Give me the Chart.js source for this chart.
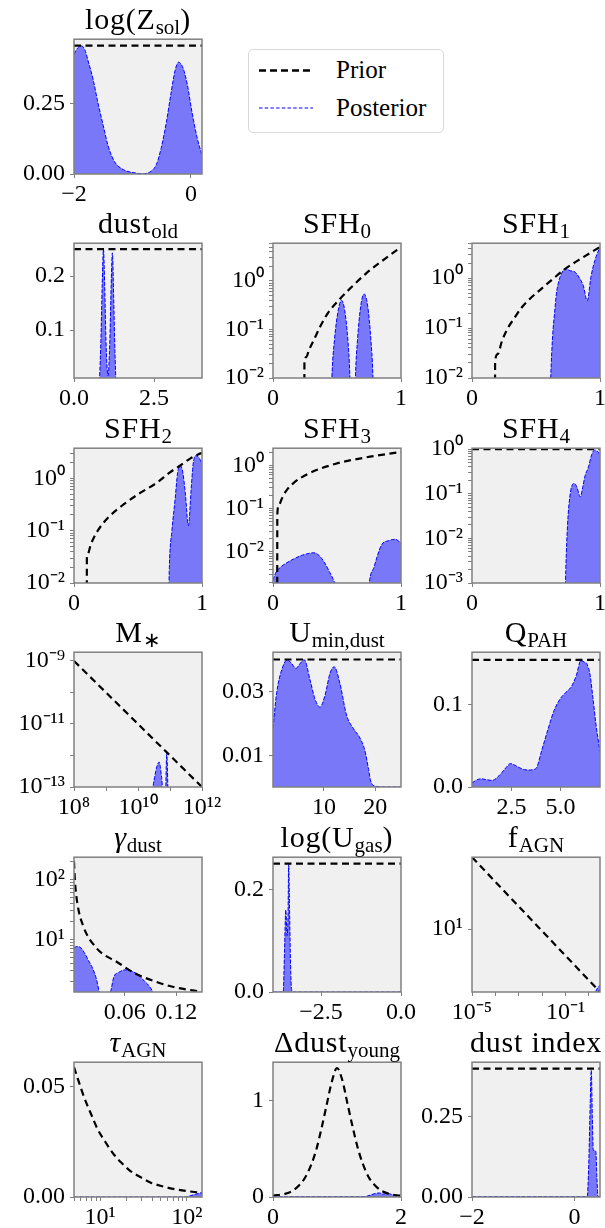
<!DOCTYPE html>
<html>
<head>
<meta charset="utf-8">
<script src="https://cdn.jsdelivr.net/npm/chart.js@4.4.1/dist/chart.umd.min.js"></script>
<style>
  body { margin: 0; background: #fff; width: 605px; height: 1228px; position: relative; overflow: hidden; font-family: 'Liberation Serif', serif; }
  canvas { position: absolute; }
  .ttl { position: absolute; text-align: center; font-size: 30px; line-height: 1; white-space: nowrap; letter-spacing: 0.8px; }
  .ttl sub { font-size: 70%; vertical-align: -0.22em; line-height: 0; letter-spacing: 0; }
  #legend { position: absolute; left: 248px; top: 49px; width: 194px; height: 82px; border: 1px solid #d9d9d9; border-radius: 5px; background: #fff; }
  #legend span { position: absolute; left: 87px; font-size: 25px; line-height: 1; }
  #legend svg { position: absolute; left: 0; top: 0; }
</style>
</head>
<body>
<div id="legend">
  <svg width="80" height="82">
    <line x1="10" y1="20.5" x2="64" y2="20.5" stroke="#000" stroke-width="2.4" stroke-dasharray="7,4"></line>
    <line x1="10" y1="58" x2="64" y2="58" stroke="#0000ff" stroke-width="1.2" stroke-dasharray="3.5,2.2"></line>
  </svg>
  <span style="top:7px">Prior</span>
  <span style="top:45px">Posterior</span>
</div>
<script>
// ---- data ----
// log(Z_sol)
const zsolX = [-2, -1.94, -1.87, -1.81, -1.76, -1.67, -1.59, -1.5, -1.42, -1.31, -1.16, -0.99, -0.82, -0.68, -0.59, -0.51, -0.42, -0.34, -0.27, -0.21, -0.13, -0.06, 0.02, 0.11, 0.19];
const zsolPost = [0.427, 0.448, 0.456, 0.44, 0.404, 0.334, 0.253, 0.173, 0.103, 0.045, 0.016, 0.005, 0.001, 0.01, 0.034, 0.091, 0.184, 0.288, 0.369, 0.398, 0.375, 0.317, 0.219, 0.126, 0.068];
const zsolPriorX = [-2, 0.19];
const zsolPrior = [0.457, 0.457];

// dust_old
const dustOldX = [0, 0.78, 0.84, 0.88, 0.92, 0.96, 1.0, 1.06, 1.12, 1.16, 1.2, 1.24, 1.28, 1.32, 4];
const dustOldPost = [0, 0, 0.08, 0.18, 0.25, 0.18, 0.08, 0.015, 0.08, 0.18, 0.243, 0.16, 0.06, 0, 0];
const dustOldPriorX = [0, 4];
const dustOldPrior = [0.25, 0.25];

// SFH_0
const sfh0PriorX = [0.245, 0.2455, 0.26, 0.28, 0.33, 0.37, 0.43, 0.52, 0.6, 0.73, 0.885, 1.0];
const sfh0Prior = [0.005, 0.02, 0.027, 0.037, 0.07, 0.117, 0.22, 0.42, 0.69, 1.45, 3.0, 5.0];
const sfh0X = [0.45, 0.46, 0.48, 0.51, 0.535, 0.56, 0.585, 0.6, 0.61, 0.635, 0.645, 0.66, 0.685, 0.712, 0.74, 0.765, 0.78, 0.79];
const sfh0Post = [0.001, 0.01, 0.06, 0.25, 0.40, 0.25, 0.06, 0.012, 0.001, 0.001, 0.012, 0.06, 0.3, 0.54, 0.3, 0.06, 0.012, 0.001];

// SFH_1
const sfh1PriorX = [0.18, 0.1805, 0.2, 0.234, 0.28, 0.325, 0.384, 0.45, 0.535, 0.63, 0.731, 0.867, 1.0];
const sfh1Prior = [0.005, 0.021, 0.03, 0.055, 0.1, 0.15, 0.25, 0.38, 0.59, 0.95, 1.55, 2.6, 4.2];
const sfh1X = [0.605, 0.615, 0.63, 0.645, 0.66, 0.68, 0.70, 0.73, 0.77, 0.80, 0.84, 0.87, 0.90, 0.93, 0.96, 1.0];
const sfh1Post = [0.001, 0.01, 0.07, 0.2, 0.5, 0.9, 1.25, 1.55, 1.4, 1.35, 1.0, 0.7, 0.35, 1.08, 2.27, 4.2];

// SFH_2
const sfh2PriorX = [0.1, 0.1005, 0.106, 0.132, 0.18, 0.26, 0.39, 0.52, 0.65, 0.75, 0.83, 0.91, 0.97, 1.0];
const sfh2Prior = [0.005, 0.029, 0.035, 0.055, 0.095, 0.17, 0.32, 0.53, 0.83, 1.3, 1.75, 2.4, 2.85, 3.05];
const sfh2X = [0.735, 0.745, 0.765, 0.79, 0.81, 0.83, 0.85, 0.87, 0.894, 0.915, 0.93, 0.95, 0.975, 1.0];
const sfh2Post = [0.001, 0.02, 0.1, 0.4, 1.3, 1.75, 1.3, 0.5, 0.125, 0.6, 1.8, 2.7, 2.5, 1.9];

// SFH_3
const sfh3PriorX = [0.033, 0.0335, 0.045, 0.069, 0.1, 0.16, 0.28, 0.49, 0.73, 1.0];
const sfh3Prior = [0.001, 0.071, 0.12, 0.17, 0.25, 0.39, 0.65, 1.09, 1.54, 2.05];
const sfh3X = [0, 0.02, 0.05, 0.1, 0.16, 0.22, 0.28, 0.32, 0.36, 0.4, 0.44, 0.48, 0.5, 0.52, 0.74, 0.75, 0.79, 0.85, 0.9, 0.955, 1.0];
const sfh3Post = [0.0022, 0.0032, 0.0042, 0.0054, 0.0068, 0.0082, 0.0092, 0.0095, 0.0082, 0.0058, 0.0035, 0.002, 0.0014, 0.0005, 0.0005, 0.0016, 0.0045, 0.0148, 0.018, 0.0195, 0.016];

// SFH_4
const sfh4PriorX = [0, 1];
const sfh4Prior = [1, 1];
const sfh4X = [0.728, 0.733, 0.74, 0.75, 0.763, 0.78, 0.80, 0.82, 0.846, 0.865, 0.883, 0.91, 0.935, 0.958, 0.98, 1.0];
const sfh4Post = [0.0005, 0.002, 0.008, 0.03, 0.08, 0.15, 0.17, 0.14, 0.085, 0.14, 0.25, 0.4, 0.75, 0.95, 0.9, 0.75];

// M_*
const mstarPriorX = [1e8, 1e12];
const mstarPrior = [1e-9, 1e-13];
const mstarX = [2.6e10, 2.9e10, 3.3e10, 3.9e10, 4.6e10, 5.2e10, 5.8e10, 6.1e10, 7.1e10, 7.6e10, 7.95e10, 8.3e10, 8.9e10];
const mstarPost = [1e-14, 8e-14, 2e-13, 4.5e-13, 6.2e-13, 3e-13, 8e-14, 1e-14, 1e-14, 4e-13, 1.26e-12, 4e-13, 1e-14];

// U_min,dust
const uminPriorX = [0.1, 25];
const uminPrior = [0.0402, 0.0402];
const uminX = [0.1, 0.82, 1.79, 2.88, 3.74, 4.57, 5.35, 6.19, 7.3, 8.27, 9.24, 10.2, 11.2, 12.0, 13.1, 14.4, 15.7, 16.9, 17.97, 18.7, 19.1, 20.2, 22, 25];
const uminPost = [0.0186, 0.0298, 0.0369, 0.0401, 0.0389, 0.0374, 0.0389, 0.0401, 0.0338, 0.0277, 0.0252, 0.0288, 0.0359, 0.0379, 0.0328, 0.0227, 0.0185, 0.0158, 0.0115, 0.0055, 0.0019, 0.0002, 0, 0];

// Q_PAH
const qpahPriorX = [0.5, 7.0];
const qpahPrior = [0.1538, 0.1538];
const qpahX = [0.5, 0.7, 0.94, 1.2, 1.53, 1.8, 2.02, 2.25, 2.45, 2.7, 2.9, 3.15, 3.39, 3.6, 3.78, 4.05, 4.37, 4.66, 4.96, 5.25, 5.55, 5.8, 6.03, 6.2, 6.33, 6.5, 6.63, 6.8, 7.0];
const qpahPost = [0.005, 0.008, 0.0099, 0.009, 0.0079, 0.012, 0.0176, 0.024, 0.0283, 0.026, 0.0235, 0.021, 0.0205, 0.021, 0.0235, 0.045, 0.0706, 0.092, 0.106, 0.114, 0.1216, 0.135, 0.153, 0.151, 0.149, 0.135, 0.11, 0.075, 0.043];

// gamma_dust
const gammaPriorX = [0.001, 0.002, 0.0047, 0.0115, 0.027, 0.0362, 0.0497, 0.072, 0.0946, 0.117, 0.15];
const gammaPrior = [200, 100, 42, 17, 7.2, 5.5, 4.3, 2.7, 2.0, 1.6, 1.33];
const gammaX = [0.001, 0.004, 0.008, 0.013, 0.018, 0.023, 0.027, 0.03, 0.033, 0.04, 0.0435, 0.0474, 0.053, 0.061, 0.068, 0.0767, 0.083, 0.088, 0.0933, 0.1, 0.15];
const gammaPost = [7.2, 7.6, 7.4, 6.0, 4.4, 3.2, 2.2, 1.4, 0.9, 0.9, 1.3, 2.35, 2.8, 3.1, 2.95, 2.5, 2.0, 1.7, 1.3, 0.9, 0.9];

// log(U_gas)
const ugasPriorX = [-4, 0];
const ugasPrior = [0.25, 0.25];
const ugasX = [-4, -3.68, -3.64, -3.6, -3.56, -3.53, -3.51, -3.48, -3.45, -3.42, -3.39, 0];
const ugasPost = [0, 0, 0.08, 0.16, 0.11, 0.15, 0.25, 0.15, 0.05, 0.005, 0, 0];

// f_AGN
const fagnPriorX = [1e-5, 3];
const fagnPrior = [10.8, 9.35];
const fagnX = [1.2, 2.0, 3];
const fagnPost = [9.2, 9.36, 9.42];

// tau_AGN
const tauPriorX = [5, 5.5, 6.5, 8, 9.3, 11.5, 14.5, 18, 22.4, 30, 38, 52, 70, 100, 142, 150];
const tauPrior = [0.059, 0.054, 0.0456, 0.037, 0.031, 0.025, 0.0192, 0.0152, 0.0118, 0.0088, 0.0066, 0.0049, 0.0037, 0.0027, 0.002, 0.0019];
const tauX = [5, 95, 110, 125, 140, 150];
const tauPost = [0, 0, 0.0006, 0.0012, 0.0017, 0.002];

// Delta dust_young
const ddustPriorX = [0, 0.2, 0.32, 0.42, 0.5, 0.6, 0.68, 0.76, 0.83, 0.92, 1.0, 1.08, 1.17, 1.24, 1.32, 1.4, 1.5, 1.58, 1.68, 1.8, 2.0];
const ddustPrior = [0.015, 0.035, 0.07, 0.13, 0.2, 0.34, 0.5, 0.72, 0.93, 1.2, 1.34, 1.22, 0.95, 0.74, 0.52, 0.35, 0.2, 0.13, 0.07, 0.035, 0.012];
const ddustX = [0, 1.42, 1.5, 1.58, 1.66, 1.72, 1.78, 1.84, 1.9, 1.96, 2.0];
const ddustPost = [0.003, 0.003, 0.015, 0.033, 0.042, 0.03, 0.04, 0.03, 0.015, 0.005, 0.003];

// dust index
const dindexPriorX = [-2, 0.5];
const dindexPrior = [0.4, 0.4];
const dindexX = [-2, 0.25, 0.28, 0.31, 0.33, 0.35, 0.37, 0.4, 0.42, 0.44, 0.46, 0.5];
const dindexPost = [0.001, 0.001, 0.1, 0.3, 0.395, 0.25, 0.145, 0.145, 0.14, 0.06, 0.001, 0.001];

// ---- layout ----
const COLS = [74, 273, 472];
const ROWS = [35, 239, 444, 648, 853, 1058];
const PW = 128, PH = 139;
const YW = 70, PADR = 30, PADT = 14, XH = 34;
const FONT = "'Liberation Serif', serif";
const EDGE = '#808080';

const SUP = { '0': '⁰', '1': '¹', '2': '²', '3': '³', '4': '⁴', '5': '⁵', '6': '⁶', '7': '⁷', '8': '⁸', '9': '⁹', '-': '⁻' };

function fmtNum(v, dec) {
  return v.toFixed(dec).replace('-', '\u2212');
}

function pow10Label(v, shown) {
  const lg = Math.log10(v);
  const e = Math.round(lg);
  if (Math.abs(lg - e) > 1e-6 || !shown.includes(e)) return '';
  return '10' + String(e).split('').map(c => SUP[c]).join('');
}

// tick positions m*10^e inside [min, max]
function logTicks(min, max, mults) {
  const out = [];
  for (let e = Math.floor(Math.log10(min)); e <= Math.ceil(Math.log10(max)); e++) {
    mults.forEach(m => {
      const v = m * Math.pow(10, e);
      if (v >= min * 0.9999 && v <= max * 1.0001) out.push(v);
    });
  }
  return out;
}

const ALL = [1, 2, 3, 4, 5, 6, 7, 8, 9];

function lin(min, max, ticks, dec) {
  return { type: 'linear', min, max, ticks, fmt: v => fmtNum(v, dec) };
}
function lg(min, max, ticks, shown) {
  return { type: 'logarithmic', min, max, ticks, fmt: v => pow10Label(v, shown) };
}

const panels = [
  { title: 'log(Z<sub>sol</sub>)', col: 0, row: 0,
    x: lin(-2, 0.19, [-2, 0], 0), y: lin(0, 0.48, [0, 0.25], 2),
    prior: [zsolPriorX, zsolPrior], post: [zsolX, zsolPost] },
  { title: 'dust<sub>old</sub>', col: 0, row: 1,
    x: lin(0, 4, [0, 2.5], 1), y: lin(0.011, 0.261, [0.1, 0.2], 1),
    prior: [dustOldPriorX, dustOldPrior], post: [dustOldX, dustOldPost] },
  { title: 'SFH<sub>0</sub>', col: 1, row: 1,
    x: lin(0, 1, [0, 1], 0), y: lg(0.01, 6, logTicks(0.01, 6, ALL), [-2, -1, 0]),
    prior: [sfh0PriorX, sfh0Prior], post: [sfh0X, sfh0Post] },
  { title: 'SFH<sub>1</sub>', col: 2, row: 1,
    x: lin(0, 1, [0, 1], 0), y: lg(0.01, 5, logTicks(0.01, 5, ALL), [-2, -1, 0]),
    prior: [sfh1PriorX, sfh1Prior], post: [sfh1X, sfh1Post] },
  { title: 'SFH<sub>2</sub>', col: 0, row: 2,
    x: lin(0, 1, [0, 1], 0), y: lg(0.01, 3.75, logTicks(0.01, 3.75, ALL), [-2, -1, 0]),
    prior: [sfh2PriorX, sfh2Prior], post: [sfh2X, sfh2Post] },
  { title: 'SFH<sub>3</sub>', col: 1, row: 2,
    x: lin(0, 1, [0, 1], 0), y: lg(0.0019, 2.5, logTicks(0.0019, 2.5, ALL), [-2, -1, 0]),
    prior: [sfh3PriorX, sfh3Prior], post: [sfh3X, sfh3Post] },
  { title: 'SFH<sub>4</sub>', col: 2, row: 2,
    x: lin(0, 1, [0, 1], 0), y: lg(0.001, 1.05, logTicks(0.001, 1.05, ALL), [-3, -2, -1, 0]),
    prior: [sfh4PriorX, sfh4Prior], post: [sfh4X, sfh4Post] },
  { title: 'M<sub>∗</sub>', col: 0, row: 3,
    x: lg(1e8, 1e12, logTicks(1e8, 1e12, [1]), [8, 10, 12]),
    y: lg(1e-13, 1.9e-9, logTicks(1e-13, 1.9e-9, [1]), [-13, -11, -9]),
    prior: [mstarPriorX, mstarPrior], post: [mstarX, mstarPost] },
  { title: 'U<sub>min,dust</sub>', col: 1, row: 3,
    x: lin(0.1, 25, [10, 20], 0), y: lin(0, 0.0425, [0.01, 0.03], 2),
    prior: [uminPriorX, uminPrior], post: [uminX, uminPost] },
  { title: 'Q<sub>PAH</sub>', col: 2, row: 3,
    x: lin(0.5, 7, [2.5, 5.0], 1), y: lin(0, 0.163, [0, 0.1], 1),
    prior: [qpahPriorX, qpahPrior], post: [qpahX, qpahPost] },
  { title: '<i>γ</i><sub>dust</sub>', col: 0, row: 4,
    x: lin(0.001, 0.15, [0.06, 0.12], 2), y: lg(1.32, 236, logTicks(1.32, 236, ALL), [1, 2]),
    prior: [gammaPriorX, gammaPrior], post: [gammaX, gammaPost] },
  { title: 'log(U<sub>gas</sub>)', col: 1, row: 4,
    x: lin(-4, 0, [-2.5, 0], 1), y: lin(0, 0.2625, [0, 0.2], 1),
    prior: [ugasPriorX, ugasPrior], post: [ugasX, ugasPost] },
  { title: 'f<sub>AGN</sub>', col: 2, row: 4,
    x: lg(1e-5, 3, logTicks(1e-5, 3, [1]), [-5, -1]), y: lg(9.35, 10.8, [10], [1]),
    prior: [fagnPriorX, fagnPrior], post: [fagnX, fagnPost] },
  { title: '<i>τ</i><sub>AGN</sub>', col: 0, row: 5,
    x: lg(5, 150, logTicks(5, 150, ALL), [1, 2]), y: lin(0, 0.0612, [0, 0.05], 2),
    prior: [tauPriorX, tauPrior], post: [tauX, tauPost] },
  { title: 'Δdust<sub>young</sub>', col: 1, row: 5,
    x: lin(0, 2, [0, 2], 0), y: lin(0, 1.4, [0, 1], 0),
    prior: [ddustPriorX, ddustPrior], post: [ddustX, ddustPost] },
  { title: 'dust index', col: 2, row: 5,
    x: lin(-2, 0.5, [-2, 0], 0), y: lin(0, 0.42, [0, 0.25], 2),
    prior: [dindexPriorX, dindexPrior], post: [dindexX, dindexPost] }
];

function pts(pair) {
  return pair[0].map((x, i) => ({ x, y: pair[1][i] }));
}

function scaleOpts(ax, axis) {
  return {
    type: ax.type,
    min: ax.min,
    max: ax.max,
    afterBuildTicks: s => { s.ticks = ax.ticks.map(v => ({ value: v })); },
    afterFit: s => { if (axis === 'y') s.width = YW; else s.height = XH; },
    border: { display: false },
    grid: { drawOnChartArea: false, drawTicks: true, tickLength: 4, color: EDGE, lineWidth: 1 },
    ticks: {
      autoSkip: false, maxRotation: 0, minRotation: 0,
      padding: axis === 'y' ? 5 : 4,
      color: '#000',
      font: { family: FONT, size: 24, lineHeight: 1.1 },
      callback: v => ax.fmt(v)
    }
  };
}

// grey plot face + frame
const panelFrame = {
  id: 'panelFrame',
  beforeDraw(chart) {
    const a = chart.chartArea, c = chart.ctx;
    c.save();
    c.fillStyle = '#f0f0f0';
    c.fillRect(a.left, a.top, a.right - a.left, a.bottom - a.top);
    c.restore();
  },
  afterDraw(chart) {
    const a = chart.chartArea, c = chart.ctx;
    c.save();
    c.strokeStyle = EDGE;
    c.lineWidth = 1.5;
    c.strokeRect(a.left, a.top, a.right - a.left, a.bottom - a.top);
    c.restore();
  }
};

panels.forEach(p => {
  const L = COLS[p.col], T = ROWS[p.row];
  const cv = document.createElement('canvas');
  cv.width = YW + PW + PADR;
  cv.height = PADT + PH + XH;
  cv.style.left = (L - YW) + 'px';
  cv.style.top = (T - PADT) + 'px';
  document.body.appendChild(cv);

  new Chart(cv, {
    type: 'line',
    data: {
      datasets: [
        { data: pts(p.prior), borderColor: '#000', borderWidth: 2.2, borderDash: [7, 4.5],
          pointRadius: 0, fill: false, cubicInterpolationMode: 'monotone' },
        { data: pts(p.post), borderColor: '#0000ff', borderWidth: 1, borderDash: [4, 1.5],
          backgroundColor: 'rgba(0, 0, 255, 0.5)', pointRadius: 0, fill: 'start',
          cubicInterpolationMode: 'monotone' }
      ]
    },
    options: {
      responsive: false,
      animation: false,
      events: [],
      devicePixelRatio: 1,
      layout: { padding: { top: PADT, right: PADR, left: 0, bottom: 0 } },
      plugins: { legend: { display: false }, tooltip: { enabled: false } },
      scales: { x: scaleOpts(p.x, 'x'), y: scaleOpts(p.y, 'y') }
    },
    plugins: [panelFrame]
  });

  const t = document.createElement('div');
  t.className = 'ttl';
  t.style.left = (L - 40) + 'px';
  t.style.width = (PW + 80) + 'px';
  t.style.top = (T - 31) + 'px';
  t.innerHTML = p.title;
  document.body.appendChild(t);
});
</script>
</body>
</html>
